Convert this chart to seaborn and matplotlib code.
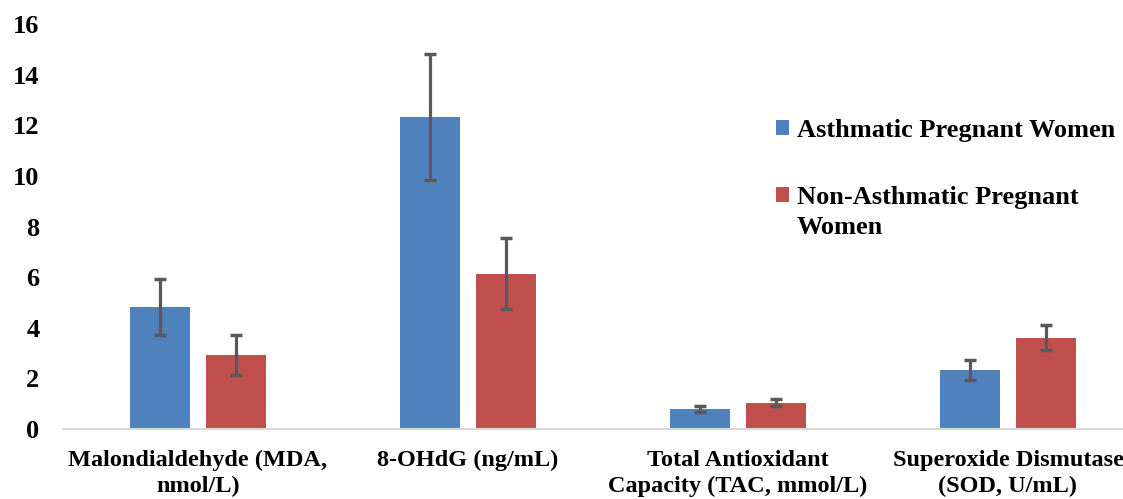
import numpy as np
import pandas as pd
import matplotlib
matplotlib.use('Agg')
import matplotlib.pyplot as plt
import seaborn as sns

# values
categories = [
    'Malondialdehyde (MDA,\nnmol/L)',
    '8-OHdG (ng/mL)',
    'Total Antioxidant\nCapacity (TAC, mmol/L)',
    'Superoxide Dismutase\n(SOD, U/mL)',
]
groups = ['Asthmatic Pregnant Women', 'Non-Asthmatic Pregnant Women']
asthmatic_mean = [4.82, 12.33, 0.79, 2.32]
asthmatic_err = [1.1, 2.5, 0.12, 0.4]
non_asthmatic_mean = [2.92, 6.13, 1.04, 3.61]
non_asthmatic_err = [0.8, 1.4, 0.15, 0.5]

colors = ['#4F81BD', '#C0504D']


def build_frame():
    rows = []
    for cat, m, e in zip(categories, asthmatic_mean, asthmatic_err):
        rows.append({'cat': cat, 'group': groups[0], 'mean': m, 'err': e})
    for cat, m, e in zip(categories, non_asthmatic_mean, non_asthmatic_err):
        rows.append({'cat': cat, 'group': groups[1], 'mean': m, 'err': e})
    return pd.DataFrame(rows)


def main():
    sns.set_theme(style='white')
    plt.rcParams['font.family'] = ['Liberation Serif', 'DejaVu Serif']
    plt.rcParams['font.weight'] = 'bold'
    plt.rcParams['text.color'] = 'black'
    plt.rcParams['xtick.color'] = 'black'
    plt.rcParams['ytick.color'] = 'black'

    data = build_frame()

    fig = plt.figure(figsize=(11.23, 4.99), dpi=100)
    ax = fig.add_axes([63 / 1123, 70 / 499, 1080 / 1123, 405 / 499])

    sns.barplot(data=data, x='cat', y='mean', hue='group', order=categories,
                hue_order=groups, palette=colors, width=0.57, gap=0.22,
                errorbar=None, ax=ax, saturation=1, edgecolor='none')

    # error bars on top of each bar (patches are ordered by hue then category)
    bars = [p for p in ax.patches if p.get_height() > 0]
    errs = asthmatic_err + non_asthmatic_err
    for bar, e in zip(bars, errs):
        xc = bar.get_x() + bar.get_width() / 2
        ax.errorbar(xc, bar.get_height(), yerr=e, fmt='none', ecolor='#595959',
                    elinewidth=2.3, capsize=4.5, capthick=2.5)

    ax.set_ylim(0, 16)
    ax.set_yticks(np.arange(0, 17, 2))
    ax.set_xlim(-0.5, 3.5)
    ax.set_xlabel('')
    ax.set_ylabel('')
    ax.tick_params(axis='y', length=0, labelsize=19, pad=17)
    ax.tick_params(axis='x', length=0, labelsize=17.5, pad=15)
    for lbl in ax.get_xticklabels() + ax.get_yticklabels():
        lbl.set_fontweight('bold')
        lbl.set_linespacing(1.3)
    for side in ['top', 'right', 'left']:
        ax.spines[side].set_visible(False)
    ax.spines['bottom'].set_color('#D9D9D9')
    ax.spines['bottom'].set_linewidth(1.5)

    # legend: the long label wraps in the reference, with the marker on the first line
    handles, _ = ax.get_legend_handles_labels()
    short_labels = [groups[0], 'Non-Asthmatic Pregnant']
    leg = ax.legend(handles=handles, labels=short_labels, loc='upper left',
                    bbox_to_anchor=(765 / 1123, 1 - 108 / 499),
                    bbox_transform=fig.transFigure, frameon=False,
                    prop={'weight': 'bold', 'size': 19}, handlelength=0.5,
                    handleheight=0.5, handletextpad=0.3, labelspacing=1.67,
                    borderaxespad=0)
    fig.canvas.draw()
    bb = leg.get_texts()[1].get_window_extent()
    x0, y0 = fig.transFigure.inverted().transform((bb.x0, bb.y0 - 30))
    fig.text(x0, y0, 'Women', fontsize=19, fontweight='bold', ha='left', va='bottom')

    fig.savefig('out.png', dpi=100)


if __name__ == '__main__':
    main()
